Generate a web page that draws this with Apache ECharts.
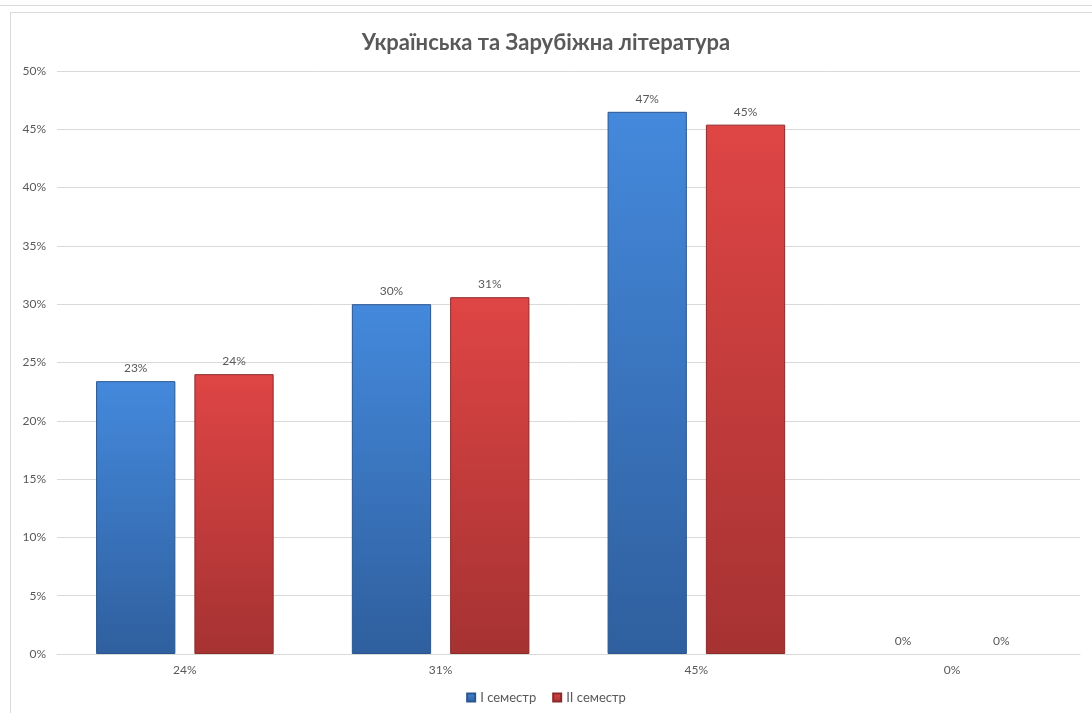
<!DOCTYPE html>
<html>
<head>
<meta charset="utf-8">
<script src="https://cdn.jsdelivr.net/npm/echarts@6/dist/echarts.min.js"></script>
<style>
  html, body { margin: 0; padding: 0; background: #fff; }
  #strip { position: absolute; left: 0; top: 0; width: 1092px; height: 5px; border-bottom: 1px solid #d9d9d9; }
  #frame { position: absolute; left: 10px; top: 12px; width: 1090px; height: 710px; border-left: 1px solid #d9d9d9; border-top: 1px solid #d9d9d9; }
  #chart { position: absolute; left: 0; top: 0; width: 1092px; height: 713px; }
</style>
</head>
<body>
<div id="strip"></div>
<div id="frame"></div>
<div id="chart"></div>
<script>
const title = 'Українська та Зарубіжна література';
const categories = ['24%', '31%', '45%', '0%'];
const seriesNames = ['I семестр', 'II семестр'];
const sem1 = [23.4, 30.0, 46.5, 0];
const sem2 = [24.0, 30.6, 45.4, 0];
const yTicks = { min: 0, max: 50, interval: 5 };

const chart = echarts.init(document.getElementById('chart'));
const font = 'Lato, "Open Sans", sans-serif';
function grad(top, bottom) {
  return new echarts.graphic.LinearGradient(0, 0, 0, 1, [
    { offset: 0, color: top },
    { offset: 1, color: bottom }
  ]);
}
function items(arr) {
  return arr.map(v => v === 0 ? { value: v, itemStyle: { borderWidth: 0 } } : v);
}
const labelCfg = {
  show: true, position: 'top', distance: 7,
  color: '#595959', fontSize: 12, fontFamily: font,
  formatter: p => Math.round(p.value) + '%'
};
chart.setOption({
  animation: false,
  title: {
    text: title, left: 'center', top: 27,
    textStyle: { color: '#595959', fontSize: 22, fontWeight: 'bold', fontFamily: font }
  },
  legend: {
    bottom: 4, left: 'center', itemWidth: 8, itemHeight: 8, itemGap: 16,
    icon: 'rect',
    textStyle: { color: '#595959', fontSize: 13, fontFamily: font },
    data: seriesNames
  },
  grid: { left: 57, right: 12, top: 71, bottom: 59, containLabel: false },
  xAxis: {
    type: 'category', data: categories,
    axisLine: { lineStyle: { color: '#d9d9d9', width: 1 } },
    axisTick: { show: false },
    axisLabel: { color: '#595959', fontSize: 12, fontFamily: font, margin: 10 }
  },
  yAxis: {
    type: 'value', min: yTicks.min, max: yTicks.max, interval: yTicks.interval,
    axisLine: { show: false }, axisTick: { show: false },
    splitLine: { lineStyle: { color: '#d9d9d9', width: 1 } },
    axisLabel: { color: '#595959', fontSize: 12, fontFamily: font, margin: 11, formatter: v => v + '%' }
  },
  series: [
    {
      name: seriesNames[0], type: 'bar', data: items(sem1),
      barWidth: '31%', barGap: '24%',
      itemStyle: { color: grad('#4489dc', '#2f5f9e'), borderColor: '#2a568f', borderWidth: 1 },
      label: labelCfg
    },
    {
      name: seriesNames[1], type: 'bar', data: items(sem2),
      barWidth: '31%', barGap: '24%',
      itemStyle: { color: grad('#df4545', '#a63232'), borderColor: '#8c2a2a', borderWidth: 1 },
      label: labelCfg
    }
  ]
});
</script>
</body>
</html>
